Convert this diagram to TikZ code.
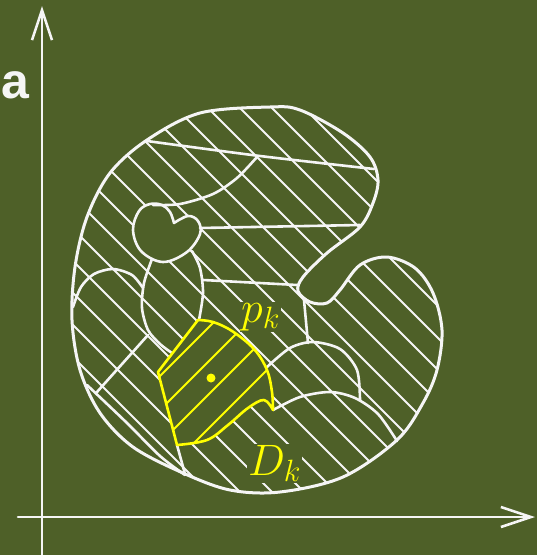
\RequirePackage{fix-cm}
\documentclass[tikz,border=0pt]{standalone}
\usepackage{fontspec}
\newfontfamily\labelfont{Liberation Sans}
\usetikzlibrary{arrows.meta}
\definecolor{Board}{RGB}{78,96,40}
\definecolor{Chalk}{RGB}{245,245,245}
\definecolor{ChalkYellow}{RGB}{255,255,0}
\newcommand\blobpath{plot[smooth cycle,tension=0.55] coordinates {(270,107) (300,110) (343,133) (370,157) (378,180) (373,203) (360,227) (327,253) (303,277) (298,291) (310,302) (327,303) (340,290) (360,265) (387,257) (415,268) (433,293) (442,330) (437,370) (423,403) (397,440) (343,477) (280,492) (230,490) (183,473) (133,447) (100,413) (80,370) (72,320) (75,267) (87,217) (110,173) (147,140) (200,113)}}
\newcommand\heartpath{plot[smooth,tension=0.6] coordinates {(174,223) (170,212) (162,205) (150,204) (139,211) (133,230) (141,251) (163,262) (187,252) (200,234) (198,221) (188,216) (174,223)} -- cycle}
\newcommand\cellpath{(198,320) -- (158,372) -- (177,445) -- plot[smooth,tension=0.6] coordinates {(177,445) (207,440) (228,425) (248,408) (264,400) (273,410)} -- plot[smooth,tension=0.6] coordinates {(273,410) (272,392) (267,370) (254,349) (232,331) (213,322) (198,320)} -- cycle}

\begin{document}
\begin{tikzpicture}[x=1pt,y=-1pt,line cap=round,line join=round,
    chalk/.style={Chalk,line width=2.6pt},
    hatch/.style={Chalk,line width=1.8pt},
    cell/.style={ChalkYellow,line width=1.8pt},
    axis/.style={Chalk,line width=2.6pt,-{Straight Barb[length=30pt,width=20pt]}},
    tag/.style={ChalkYellow,fill=Board,inner sep=1pt,anchor=base west,font=\fontsize{44}{48}\selectfont}]
  \fill[Board] (0,0) rectangle (537,555);
  \useasboundingbox (0,0) rectangle (537,555);
  \begin{scope}
    \clip \blobpath;
    \foreach \c in {-348,-316,...,228} \draw[hatch] (\c+40,40) -- (\c+560,560);
  \end{scope}
  \fill[Board] \heartpath;
  \fill[Board] \cellpath;
  \begin{scope}
    \clip \cellpath;
    \foreach \c in {536,570,603,637} \draw[cell] (\c-150,150) -- (\c-450,450);
  \end{scope}

  \coordinate (ybase) at (42,555);
  \coordinate (ytip) at (42,6);
  \coordinate (xbase) at (18,517);
  \coordinate (xtip) at (535,517);
  \draw[axis] (ybase) -- (ytip);
  \draw[axis] (xbase) -- (xtip);
  \node[Chalk,inner sep=0,anchor=base west,font=\labelfont\bfseries\fontsize{50}{56}\selectfont] (axisname) at (1,98) {a};

  \draw[chalk,line width=3pt] \blobpath;
  \draw[chalk] \heartpath;
  \draw[chalk] plot[smooth] coordinates {(147,141) (260,156) (374,169)};
  \draw[chalk] plot[smooth] coordinates {(257,157) (237,178) (213,194) (180,204) (153,205)};
  \draw[chalk] (200,228) -- (360,225);
  \draw[chalk] plot[smooth] coordinates {(152,259) (144,283) (142,308) (148,330) (160,344) (172,353)};
  \draw[chalk] plot[smooth] coordinates {(192,251) (200,268) (203,293) (199,320)};
  \draw[chalk] (203,280) -- (297,285);
  \draw[chalk] (304,300) -- (308,343);
  \draw[chalk] plot[smooth] coordinates {(73,307) (81,287) (94,274) (113,269) (132,275) (143,288)};
  \draw[chalk] (148,335) -- (97,392);
  \draw[chalk] plot[smooth] coordinates {(87,385) (127,423) (160,456) (185,475)};
  \draw[chalk] (177,445) -- (185,474);
  \draw[chalk] plot[smooth] coordinates {(267,367) (290,348) (313,342) (340,349) (357,370) (360,400)};
  \draw[chalk] plot[smooth] coordinates {(273,410) (300,397) (330,392) (355,398) (378,414) (397,441)};

  \draw[ChalkYellow,line width=2.6pt] \cellpath;
  \fill[ChalkYellow] (211,378) circle (4.5pt);
  \node[tag] (pk) at (240,322) {$p_k$};
  \node[tag] (dk) at (247,475) {$D_k$};
\end{tikzpicture}
\end{document}
